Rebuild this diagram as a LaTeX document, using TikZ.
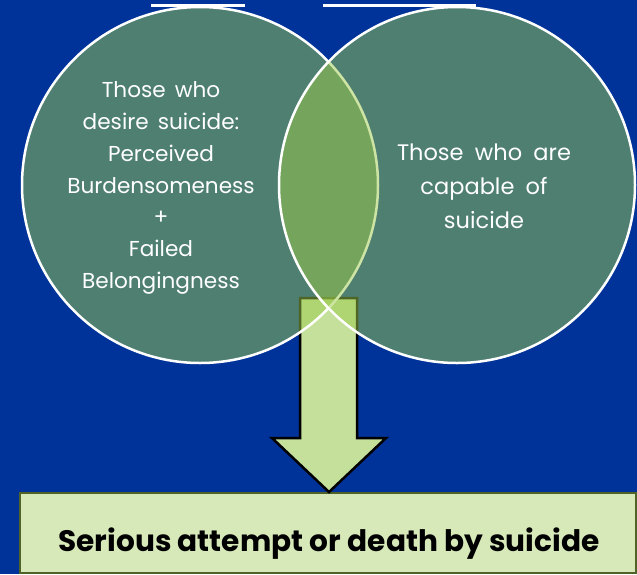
\documentclass[tikz,border=0pt]{standalone}
\usepackage{fontspec}
\setmainfont{Poppins}
\definecolor{bg}{RGB}{0,51,153}
\definecolor{circ}{RGB}{156,203,75}
\definecolor{arrowfill}{RGB}{196,224,154}
\definecolor{boxfill}{RGB}{215,233,185}
\definecolor{boxline}{RGB}{79,98,40}
\newcommand{\lfont}{\fontsize{21.6}{31.7}\selectfont\spaceskip=0.42em plus 0.1em\relax}
\newcommand{\rfont}{\fontsize{22.5}{34}\selectfont\spaceskip=0.5em plus 0.1em\relax}
\tikzset{
  venn/.style={circle, minimum size=356pt, inner sep=0pt, fill=circ, fill opacity=0.5, draw=white, draw opacity=1, line width=2.5pt},
  venntext/.style={text=white, align=center},
  resultbox/.style={draw=boxline, fill=boxfill, line width=2pt, minimum width=616pt, minimum height=80pt, inner sep=0pt},
  bigarrow/.style={draw=black, fill=arrowfill, line width=2.5pt, line join=miter},
}
\begin{document}
\begin{tikzpicture}[x=1pt,y=-1pt]
\useasboundingbox (0,0) rectangle (637,574);
\fill[bg] (0,0) rectangle (637,574);
% cut-off title underlines
\draw[white, line width=3pt] (151,5) -- (245,5);
\draw[white, line width=3pt] (323,5) -- (476,5);
% result box
\node[resultbox] (R) at (328,533) {};
% block arrow
\draw[bigarrow] (300,298) -- (357,298) -- (357,438) -- (386,438) -- (329,492) -- (272,438) -- (300,438) -- cycle;
% circles
\node[venn] (L) at (200,185) {};
\node[venn] (C) at (457,185) {};
% texts
\node[venntext, font=\lfont] (Lt) at (161,188) {Those who\\desire suicide:\\Perceived\\Burdensomeness\\+\\Failed\\Belongingness};
\node[venntext, font=\rfont] (Ct) at (484,186) {Those who are\\capable of\\suicide};
\node[anchor=base, font=\fontsize{29.6}{34}\selectfont\bfseries] (Rt) at (329,551) {Serious attempt or death by suicide};
\end{tikzpicture}
\end{document}
